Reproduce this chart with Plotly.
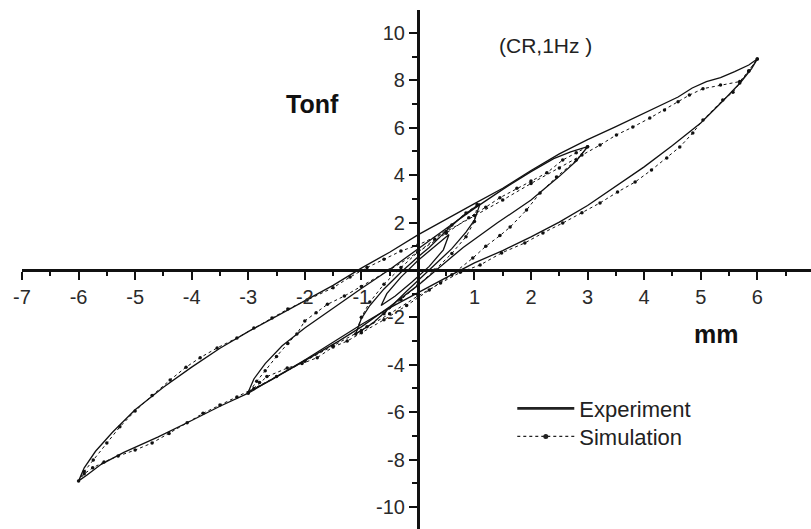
import plotly.graph_objects as go

# ---------------- data (mm, Tonf) ----------------
# Experiment, +-6 mm loop (upper branch from +tip leftwards, then lower branch back)
exp6_x = [6.0, 5.85, 5.6, 5.35, 5.1, 4.85, 4.6, 4.3, 4.0, 3.5, 3.0, 2.5, 2.0, 1.5, 1.0, 0.5, 0.0, -0.5, -1.0, -1.5,
          -2.0, -2.5, -3.0, -3.5, -4.0, -4.5, -5.0, -5.4, -5.7, -5.9, -6.0,
          -5.85, -5.6, -5.2, -4.6, -4.0, -3.5, -3.0, -2.5, -2.0, -1.5, -1.0, -0.5, 0.0, 0.5, 1.0, 1.5, 2.0, 2.5,
          3.0, 3.5, 4.0, 4.5, 5.0, 5.4, 5.7, 5.9, 6.0]
exp6_y = [8.9, 8.65, 8.37, 8.12, 7.95, 7.68, 7.3, 6.95, 6.6, 6.05, 5.5, 4.9, 4.2, 3.45, 2.8, 2.15, 1.48, 0.75, 0.08, -0.65,
          -1.3, -1.95, -2.6, -3.3, -4.1, -4.95, -5.9, -6.85, -7.65, -8.35, -8.9,
          -8.65, -8.2, -7.7, -7.05, -6.35, -5.75, -5.2, -4.5, -3.8, -3.05, -2.3, -1.6, -0.95, -0.32, 0.3, 0.82, 1.4, 2.02,
          2.72, 3.55, 4.35, 5.25, 6.2, 7.15, 7.9, 8.5, 8.9]

# Experiment, +-3 mm loop
exp3_x = [3.0, 2.7, 2.4, 2.0, 1.5, 1.0, 0.5, 0.0, -0.5, -1.0, -1.5, -2.0, -2.4, -2.7, -2.9, -3.0,
          -2.6, -2.2, -1.8, -1.4, -1.0, -0.5, 0.0, 0.4, 0.8, 1.4, 2.0, 2.5, 2.8, 3.0]
exp3_y = [5.2, 4.98, 4.7, 4.15, 3.4, 2.6, 1.75, 0.9, 0.02, -0.78, -1.6, -2.45, -3.2, -3.95, -4.6, -5.15,
          -4.65, -4.1, -3.55, -3.0, -2.4, -1.55, -0.65, 0.15, 0.95, 1.98, 2.95, 3.95, 4.6, 5.2]

# Experiment, +-1 mm loop
exp1_x = [1.1, 0.8, 0.5, 0.2, 0.0, -0.3, -0.6, -0.85, -1.0, -1.1,
          -0.8, -0.5, -0.2, 0.0, 0.3, 0.6, 0.85, 1.0, 1.1]
exp1_y = [2.8, 2.3, 1.65, 0.95, 0.55, -0.1, -0.8, -1.5, -2.05, -2.7,
          -2.25, -1.6, -0.9, -0.45, 0.2, 0.9, 1.6, 2.1, 2.8]

# Experiment, +-0.5 mm loop
exp05_x = [0.55, 0.3, 0.0, -0.3, -0.55, -0.65, -0.4, -0.1, 0.2, 0.45, 0.55]
exp05_y = [1.5, 1.0, 0.4, -0.3, -1.0, -1.5, -1.1, -0.5, 0.15, 0.85, 1.5]

# Simulation, +-6 mm loop
sim6_x = [6.0, 5.85, 5.69, 5.35, 5.04, 4.8, 4.6, 4.36, 4.1, 3.8, 3.51, 3.22, 2.9, 2.5, 2.0, 1.5, 1.0, 0.5, 0.0,
          -0.3, -0.6, -0.9, -1.2, -1.5, -1.96, -2.3, -2.58, -2.9, -3.2, -3.55, -3.85, -4.1, -4.38, -4.7, -5.0,
          -5.27, -5.5, -5.74, -5.9, -6.0,
          -5.9, -5.75, -5.55, -5.3, -5.0, -4.7, -4.4, -4.08, -3.8, -3.5, -3.2, -2.9, -2.5, -2.0, -1.5, -1.0, -0.5,
          0.0, 0.4, 0.75, 1.1, 1.48, 1.89, 2.21, 2.56, 2.9, 3.22, 3.53, 3.84, 4.13, 4.4, 4.63, 4.86, 5.04, 5.39,
          5.57, 5.69, 5.85, 6.0]
sim6_y = [8.9, 8.4, 7.95, 7.8, 7.65, 7.38, 7.1, 6.75, 6.41, 6.03, 5.7, 5.27, 4.85, 4.3, 3.65, 2.95, 2.3, 1.62, 1.05,
          0.8, 0.45, 0.1, -0.3, -0.75, -1.27, -1.65, -2.03, -2.45, -2.87, -3.29, -3.7, -4.1, -4.64, -5.3, -5.95,
          -6.62, -7.3, -8.02, -8.5, -8.9,
          -8.6, -8.35, -8.1, -7.85, -7.6, -7.3, -6.9, -6.45, -6.05, -5.7, -5.36, -5.0, -4.5, -3.85, -3.2, -2.55, -1.85,
          -1.1, -0.55, -0.1, 0.21, 0.72, 1.14, 1.56, 1.98, 2.41, 2.83, 3.29, 3.71, 4.22, 4.73, 5.19, 5.78, 6.33, 7.17,
          7.5, 7.89, 8.4, 8.9]

# Simulation, +-3 mm loop
sim3_x = [3.0, 2.8, 2.56, 2.28, 2.0, 1.75, 1.45, 1.2, 0.9, 0.5, 0.0, -0.5, -1.0, -1.3, -1.6, -1.8, -2.0, -2.14,
          -2.3, -2.5, -2.7, -2.85, -3.0,
          -2.8, -2.67, -2.31, -2.05, -1.78, -1.5, -1.25, -1.0, -0.6, -0.2, 0.2, 0.6, 0.97, 1.2, 1.45, 1.63, 1.92,
          2.16, 2.45, 2.8, 3.0]
sim3_y = [5.2, 4.95, 4.64, 4.1, 3.75, 3.45, 3.05, 2.65, 2.2, 1.55, 0.75, 0.0, -0.7, -1.1, -1.45, -1.8, -2.15, -2.7,
          -3.1, -3.65, -4.25, -4.7, -5.2,
          -4.75, -4.5, -4.14, -3.95, -3.7, -3.25, -3.0, -2.65, -2.1, -1.5, -0.85, -0.2, 0.5, 1.0, 1.45, 1.81, 2.53,
          3.25, 3.92, 4.64, 5.2]

# Simulation, +-1 mm loop
sim1_x = [1.05, 0.85, 0.6, 0.3, 0.0, -0.3, -0.6, -0.85, -1.0, -1.1,
          -0.9, -0.6, -0.3, 0.0, 0.3, 0.6, 0.85, 1.0, 1.05]
sim1_y = [2.75, 2.4, 1.9, 1.3, 0.75, 0.1, -0.6, -1.35, -2.0, -2.7,
          -2.4, -1.85, -1.25, -0.65, 0.0, 0.7, 1.4, 2.05, 2.75]

x_ticks = [-7, -6, -5, -4, -3, -2, -1, 1, 2, 3, 4, 5, 6, 7]
y_ticks = [-10, -8, -6, -4, -2, 2, 4, 6, 8, 10]
x_range = [-7, 6.95]
y_range = [-10.93, 10.97]

FONT = "Liberation Sans, Arial, Helvetica, sans-serif"
INK = "#111111"

fig = go.Figure()

for xs, ys in [(exp6_x, exp6_y), (exp3_x, exp3_y), (exp1_x, exp1_y), (exp05_x, exp05_y)]:
    fig.add_trace(go.Scatter(x=xs, y=ys, mode="lines", showlegend=False, hoverinfo="skip",
                             line=dict(color=INK, width=1.3)))

for xs, ys in [(sim6_x, sim6_y), (sim3_x, sim3_y), (sim1_x, sim1_y)]:
    fig.add_trace(go.Scatter(x=xs, y=ys, mode="lines+markers", showlegend=False, hoverinfo="skip",
                             line=dict(color=INK, width=1, dash="dot"),
                             marker=dict(color=INK, size=3.5, symbol="circle")))

# legend entries (two separately placed legends to match the spacing)
fig.add_trace(go.Scatter(x=[None], y=[None], mode="lines", name="Experiment", legend="legend",
                         line=dict(color="#222222", width=2.6)))
fig.add_trace(go.Scatter(x=[None], y=[None], mode="lines+markers", name="Simulation", legend="legend2",
                         line=dict(color="#222222", width=1.3, dash="dot"),
                         marker=dict(color="#222222", size=5, symbol="circle")))

x_pos = (0 - y_range[0]) / (y_range[1] - y_range[0])
y_pos = (0 - x_range[0]) / (x_range[1] - x_range[0])

legend_style = dict(xanchor="left", yanchor="top", bgcolor="rgba(0,0,0,0)",
                    font=dict(family=FONT, size=22, color="#222222"), itemwidth=57)

fig.update_layout(
    width=811, height=529,
    margin=dict(l=22, r=0, t=10, b=0),
    paper_bgcolor="white", plot_bgcolor="white",
    font=dict(family=FONT, color="#222222", size=20),
    xaxis=dict(range=x_range, anchor="free", position=x_pos, showgrid=False, zeroline=False,
               showline=True, linecolor=INK, linewidth=3,
               tickmode="array", tickvals=x_ticks, ticktext=[str(v) for v in x_ticks],
               ticks="outside", ticklen=8, tickwidth=2, tickcolor=INK,
               tickfont=dict(family=FONT, size=20, color="#2a2a2a"),
               minor=dict(dtick=0.5, tick0=0, ticks="outside", ticklen=4, tickwidth=2, tickcolor=INK)),
    yaxis=dict(range=y_range, anchor="free", position=y_pos, showgrid=False, zeroline=False,
               showline=True, linecolor=INK, linewidth=3,
               tickmode="array", tickvals=y_ticks, ticktext=[str(v) for v in y_ticks],
               ticks="outside", ticklen=8, tickwidth=2, tickcolor=INK,
               tickfont=dict(family=FONT, size=20, color="#2a2a2a"),
               minor=dict(dtick=1, tick0=0, ticks="outside", ticklen=5, tickwidth=2, tickcolor=INK)),
    legend=dict(x=0.6214, y=0.2725, **legend_style),
    legend2=dict(x=0.6214, y=0.2185, **legend_style),
    annotations=[
        dict(x=-1.87, y=7.0, text="<b>Tonf</b>", showarrow=False,
             font=dict(family=FONT, size=25, color="#111111")),
        dict(x=5.27, y=-2.7, text="<b>mm</b>", showarrow=False,
             font=dict(family=FONT, size=25, color="#111111")),
        dict(x=2.26, y=9.47, text="(CR,1Hz )", showarrow=False,
             font=dict(family=FONT, size=21, color="#222222")),
    ],
)

fig.write_html("out.html")
